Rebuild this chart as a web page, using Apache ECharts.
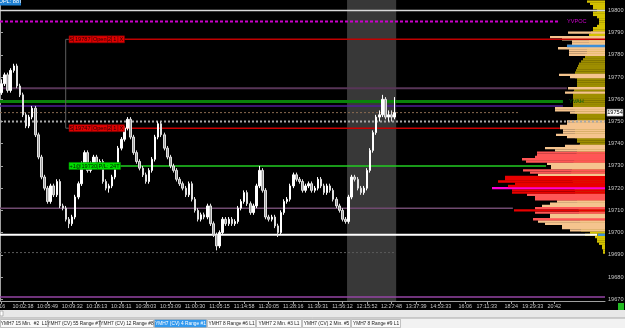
<!DOCTYPE html>
<html><head><meta charset="utf-8">
<script src="https://cdn.jsdelivr.net/npm/echarts@6/dist/echarts.min.js"></script>
<style>html,body{margin:0;padding:0;background:#000;}#c{width:625px;height:328px;}</style>
</head><body><div id="c"></div>
<script>
// ---------- DATA ----------
const timeTickSlots = [0, 7, 15, 23, 31, 39, 47, 55, 63, 71, 79, 87, 95, 103, 111, 119, 127, 135, 143, 151, 158, 166, 173, 180];
const timeTickLabels = [":16", "10:02:38", "10:05:49", "10:09:32", "10:18:13", "10:26:11", "10:38:03", "10:53:09", "11:00:30", "11:05:15", "11:14:58", "11:20:05", "11:28:16", "11:39:31", "11:56:12", "12:15:52", "12:27:48", "13:37:39", "14:53:33", "16:06", "17:11:33", "18:24", "19:29:33", "20:42"];
// [open, close, low, high]
const candles = [
[19763,19767,19762,19769],[19767,19771,19766,19772],[19771,19764,19763,19772],[19764,19773,19763,19774],
[19773,19775,19772,19776],[19775,19766,19765,19776],[19766,19762,19761,19767],[19762,19753,19752,19763],
[19753,19748,19747,19754],[19748,19752,19747,19753],[19752,19756,19751,19757],[19756,19744,19743,19757],
[19744,19734,19733,19745],[19734,19725,19724,19735],[19725,19720,19719,19726],[19720,19714,19713,19721],
[19714,19721,19713,19722],[19721,19717,19716,19722],[19717,19723,19716,19724],[19723,19712,19711,19724],
[19712,19711,19710,19713],[19711,19706,19705,19712],[19706,19704,19702,19707],[19704,19707,19703,19708],
[19707,19716,19706,19717],[19716,19722,19715,19723],[19722,19731,19721,19732],[19731,19736,19730,19737],
[19736,19728,19727,19737],[19728,19731,19727,19732],[19731,19734,19730,19735],[19734,19730,19729,19735],
[19730,19732,19729,19733],[19732,19723,19722,19733],[19723,19720,19719,19724],[19720,19721,19718,19722],
[19721,19725,19720,19726],[19725,19730,19724,19731],[19730,19738,19729,19739],[19738,19742,19737,19743],
[19742,19747,19741,19748],[19747,19751,19746,19752],[19751,19743,19742,19752],[19743,19736,19735,19744],
[19736,19732,19731,19737],[19732,19729,19728,19733],[19729,19726,19725,19730],[19726,19723,19722,19727],
[19723,19728,19722,19729],[19728,19733,19727,19734],[19733,19743,19732,19744],[19743,19749,19742,19750],
[19749,19744,19743,19750],[19744,19738,19737,19745],[19738,19734,19733,19739],[19734,19730,19729,19735],
[19730,19728,19727,19731],[19728,19724,19723,19729],[19724,19722,19721,19725],[19722,19720,19719,19723],
[19720,19717,19716,19721],[19717,19722,19716,19723],[19722,19715,19714,19723],[19715,19710,19709,19716],
[19710,19706,19705,19711],[19706,19708,19705,19709],[19708,19707,19706,19709],[19707,19712,19706,19713],
[19712,19704,19703,19713],[19704,19699,19698,19705],[19699,19694,19692,19700],[19694,19700,19693,19701],
[19700,19706,19699,19707],[19706,19704,19703,19707],[19704,19706,19703,19707],[19706,19704,19703,19707],
[19704,19705,19703,19706],[19705,19711,19704,19712],[19711,19714,19710,19715],[19714,19718,19713,19719],
[19718,19713,19712,19719],[19713,19709,19708,19714],[19709,19712,19708,19713],[19712,19721,19711,19722],
[19721,19728,19720,19730],[19728,19719,19718,19729],[19719,19707,19706,19720],[19707,19706,19705,19708],
[19706,19707,19705,19708],[19707,19703,19702,19708],[19703,19700,19698,19704],[19700,19709,19699,19710],
[19709,19714,19708,19715],[19714,19715,19713,19716],[19715,19721,19714,19722],[19721,19726,19720,19727],
[19726,19724,19723,19727],[19724,19723,19722,19725],[19723,19719,19718,19724],[19719,19721,19718,19722],
[19721,19722,19720,19723],[19722,19719,19718,19723],[19719,19720,19718,19721],[19720,19724,19719,19725],
[19724,19721,19720,19725],[19721,19718,19717,19722],[19718,19721,19717,19722],[19721,19719,19718,19722],
[19719,19715,19714,19720],[19715,19712,19711,19716],[19712,19710,19709,19713],[19710,19706,19705,19711],
[19706,19705,19704,19707],[19705,19716,19704,19717],[19716,19725,19715,19726],[19725,19724,19723,19726],
[19724,19720,19719,19725],[19720,19718,19717,19721],[19718,19720,19717,19721],[19720,19728,19719,19729],
[19728,19737,19727,19738],[19737,19745,19736,19746],[19745,19752,19744,19753],[19752,19753,19750,19755],
[19753,19760,19752,19762],[19760,19752,19751,19761],[19752,19753,19750,19755],[19753,19752,19750,19755],
[19752,19754,19751,19761]
];
const levelPrices = [19800, 19795, 19787, 19765, 19759, 19757, 19754, 19750, 19747, 19730, 19711, 19699, 19691, 19671];
const highlightSlots = [113, 129];
const lastPrice = 19754;
const sessionPrices = [19790,19788,19787,19786,19785,19784,19783,19782,19781,19780,19771,19770,19765,19763,19756,19755,19754,19750,19749,19748,19747,19746,19745,19744,19743,
19739,19738,19737,19736,19735,19734,19733,19732,19731,19730,19729,19728,19727,19726,19725,19724,19723,19722,19721,19720,19719,19718,19717,19716,19715,19714,19713,19712,19711,19710,19709,19708,19707,19706,19705,19704,19703,19702,19701];
const sessionVolumes = [37,55,43,33,33,38,47,36,36,36,46,35,37,40,50,50,35,38,38,45,45,42,42,49,38,
40,60,50,68,68,70,83,79,58,54,54,82,75,67,100,100,107,90,97,113,93,93,78,70,70,48,55,63,70,91,70,55,55,72,67,60,43,43,35];
const compositeTop = 19804; // one value per point, going down
const compositeVolumes = [18,15,12,12,8,12,12,8,6,6, 6,8,12,12,14,16,16,16,16,16, 16,16,18,18,20,20,22,24,26,27,
28,29,30,30,30,28,28,28,28,30, 31,32,32,32,32,32,32,32,32,30, 30,28,28,28,30,30,30,30,30,30, 30,30,28,28,25,
26,27,28,28,29,30,30,31,32,32,33,33,34,34,33,33,32,32,31,31,30,30,29,29,28,28,27,27,27,26,26,26,25,25,25,24,24,24,24,
15,20,10,8,8,6,3,3,2,2];
const markerPrices = [19784, 19699];
const markerVolumes = [38, 7];
const tabNames = ["YMH7 15 Min.  #2  L1", "YMH7 (CV) 55 Range #7", "YMH7 (CV) 12 Range #8", "YMH7 (CV) 4 Range #1", "YMH7 8 Range #6 L1", "YMH7 2 Min. #3 L1", "YMH7 (CV) 2 Min. #5", "YMH7 8 Range #9 L1"];

// ---------- STYLE ----------
const FONT = '"Liberation Sans", Arial, sans-serif';
const SLOTS = 197;
const lineStyles = [
  {color:'#d8d8d8', width:1.5, type:'solid',  from:0,    to:197},
  {color:'#cc00cc', width:2,   type:[3,2],    from:0,    to:182.3},
  {color:'#c00000', width:1.5, type:'solid',  from:22.5, to:197},
  {color:'#573557', width:2,   type:'solid',  from:0,    to:184.6},
  {color:'#0a820a', width:3,   type:'solid',  from:0,    to:183.3},
  {color:'#4e1f96', width:1.5, type:'solid',  from:0,    to:183.3},
  {color:'#8a6a50', width:1,   type:[2,2],    from:0,    to:168.7},
  {color:'#a8a8a8', width:2,   type:[2,2],    from:0,    to:197},
  {color:'#c80000', width:1.5, type:'solid',  from:22.5, to:182.3},
  {color:'#22cc22', width:1.5, type:'solid',  from:22.5, to:177.8},
  {color:'#704a70', width:1.5, type:'solid',  from:0,    to:167},
  {color:'#ffffff', width:2,   type:'solid',  from:0,    to:194.4},
  {color:'#5a5a5a', width:1,   type:[2,2],    from:0,    to:128.6},
  {color:'#9444a4', width:1.5, type:'solid',  from:0,    to:197}
];

const chart = echarts.init(document.getElementById('c'), null, {renderer:'canvas', width:625, height:328});
const slotCats = Array.from({length: SLOTS}, (_, i) => String(i));
const tickMap = new Map(timeTickSlots.map((s, k) => [s, timeTickLabels[k]]));
const levels = []; for (let p = 19670; p <= 19804; p++) levels.push(p);
const sessionMap = new Map(sessionPrices.map((p, i) => [p, sessionVolumes[i]]));
const markerMap = new Map(markerPrices.map((p, i) => [p, markerVolumes[i]]));
const sessionMax = Math.max(...sessionVolumes);
const compositeData = levels.map(p => { const i = compositeTop - p; return (i >= 0 && i < compositeVolumes.length) ? compositeVolumes[i] : '-'; });
const sessionData = levels.map(p => sessionMap.has(p) ? sessionMap.get(p) : '-');
const markerData = levels.map(p => markerMap.has(p) ? markerMap.get(p) : '-');

const levelSeries = levelPrices.map((p, i) => ({
  type:'line', xAxisIndex:1, yAxisIndex:0, z:3, silent:true, symbol:'none', animation:false,
  data:[[lineStyles[i].from, p], [lineStyles[i].to, p]],
  lineStyle:{color:lineStyles[i].color, width:lineStyles[i].width, type:lineStyles[i].type}
}));

chart.setOption({
  backgroundColor:'#000000',
  animation:false,
  grid:[
    {left:0, right:20, top:0, bottom:27, outerBoundsMode:'none', containLabel:false},
    {left:405, right:20, top:0.44, height:299.89, outerBoundsMode:'none', containLabel:false}
  ],
  xAxis:[
    {type:'category', gridIndex:0, data:slotCats, boundaryGap:true,
     axisLine:{show:true, lineStyle:{color:'#a0a0a0', width:1}},
     axisTick:{show:true, alignWithLabel:true, length:3, interval:(idx) => tickMap.has(idx), lineStyle:{color:'#a0a0a0'}},
     axisLabel:{show:true, interval:(idx) => tickMap.has(idx), formatter:(v, idx) => tickMap.get(Number(v)) || '', color:'#c8c8c8', fontSize:5.4, fontFamily:FONT, margin:3},
     splitLine:{show:false}},
    {type:'value', gridIndex:0, min:0, max:SLOTS, show:false},
    {type:'value', gridIndex:1, min:0, max:200, inverse:true, show:false}
  ],
  yAxis:[
    {type:'value', gridIndex:0, position:'right', min:19669.2, max:19804.7, splitNumber:14, scale:true,
     axisLine:{show:true, lineStyle:{color:'#a0a0a0', width:1}},
     axisTick:{show:true, length:3, lineStyle:{color:'#a0a0a0'}},
     axisLabel:{show:true, color:'#c8c8c8', fontSize:5.6, fontFamily:FONT, margin:3,
       formatter:(v) => (Math.abs(v % 10) < 1e-6 ? String(v) : '')},
     splitLine:{show:false}},
    {type:'category', gridIndex:1, data:levels.map(String), show:false}
  ],
  series:[
    {type:'line', xAxisIndex:1, yAxisIndex:0, z:1, data:[], silent:true,
     markArea:{silent:true, itemStyle:{color:'#383838'}, data:[[{xAxis:highlightSlots[0]}, {xAxis:highlightSlots[1]}]]}},
    {type:'bar', xAxisIndex:2, yAxisIndex:1, z:2, barWidth:2.4, barGap:'-100%', silent:true, data:compositeData,
     itemStyle:{color:(p) => (p.value <= 18 ? '#d4c200' : '#9e8e00')}},
    {type:'bar', xAxisIndex:2, yAxisIndex:1, z:2, barWidth:2.4, barGap:'-100%', silent:true, data:sessionData,
     itemStyle:{color:(p) => (p.value === sessionMax ? '#ff00d8' : p.value >= 88 ? '#e80000' : p.value >= 68 ? '#ff5656' : '#f5c48e')}},
    {type:'bar', xAxisIndex:2, yAxisIndex:1, z:2, barWidth:2.4, barGap:'-100%', silent:true, data:markerData,
     itemStyle:{color:'#3d8fd8'}},
    ...levelSeries,
    {type:'candlestick', xAxisIndex:0, yAxisIndex:0, z:4, barWidth:2, silent:true, data:candles,
     itemStyle:{color:'#ffffff', color0:'#9a9a9a', borderColor:'#ffffff', borderColor0:'#e0e0e0', borderWidth:1}}
  ]
});

// ---------- ANNOTATIONS (positions from the price scale) ----------
const py = (p) => chart.convertToPixel({yAxisIndex:0}, p);
const g = [];
function segLabel(x0, price, segs, fill, stroke, textFill) {
  const y = py(price), h = 7; let x = x0;
  segs.forEach(([t, w]) => {
    g.push({type:'rect', z:20, silent:true, shape:{x:x, y:y - h / 2, width:w, height:h}, style:{fill:fill, stroke:stroke, lineWidth:0.6}});
    g.push({type:'text', z:21, silent:true, style:{text:t, x:x + w / 2, y:y + 0.5, align:'center', verticalAlign:'middle', fill:textFill, font:'5.6px ' + FONT}});
    x += w;
  });
}
g.push({type:'polyline', z:19, silent:true, shape:{points:[[69, py(19787)], [65.7, py(19787)], [65.7, py(19747)], [69, py(19747)]]}, style:{stroke:'#5e5e5e', lineWidth:1, fill:null}});
segLabel(69, 19787, [["S",4.5],["19787",18.5],["Open",15.5],["2",4],["1",6.5],["X",6.5]], '#e00000', '#7a0000', '#2a0000');
segLabel(69, 19747, [["S",4.5],["19747",18.5],["Open",15.5],["2",4],["1",6.5],["X",6.5]], '#e00000', '#7a0000', '#2a0000');
segLabel(69, 19730, [["+1@19730",28.5],["P/L: 24T",23]], '#00dd00', '#008800', '#002200');
g.push({type:'rect', z:20, silent:true, shape:{x:0, y:-2, width:21, height:7.5}, style:{fill:'#1f80d2'}});
g.push({type:'text', z:21, silent:true, style:{text:'OPL: 88T', x:10.5, y:1.8, align:'center', verticalAlign:'middle', fill:'#ffffff', font:'5.6px ' + FONT}});
g.push({type:'text', z:21, silent:true, style:{text:'YVPOC', x:567, y:py(19795), align:'left', verticalAlign:'middle', fill:'#cc00cc', font:'5.6px ' + FONT}});
g.push({type:'text', z:21, silent:true, style:{text:'YVAH', x:569, y:py(19759), align:'left', verticalAlign:'middle', fill:'#0b5e0b', font:'5.6px ' + FONT}});
g.push({type:'rect', z:20, silent:true, shape:{x:607, y:py(lastPrice) - 3.5, width:16, height:7}, style:{fill:'#ffffff', stroke:'#8a8a8a', lineWidth:0.6}});
g.push({type:'text', z:21, silent:true, style:{text:String(lastPrice), x:615, y:py(lastPrice) + 0.3, align:'center', verticalAlign:'middle', fill:'#000000', font:'5.6px ' + FONT}});
g.push({type:'rect', z:20, silent:true, shape:{x:618, y:303, width:6, height:7}, style:{fill:'#22bb22'}});
g.push({type:'rect', z:20, silent:true, shape:{x:0, y:310, width:625, height:8}, style:{fill:'#e8e8e8'}});
g.push({type:'rect', z:21, silent:true, shape:{x:0, y:311, width:3, height:5}, style:{fill:'#ffffff', stroke:'#8a8a8a', lineWidth:0.6}});
g.push({type:'rect', z:20, silent:true, shape:{x:0, y:318, width:625, height:10}, style:{fill:'#f2f2f2'}});
g.push({type:'line', z:21, silent:true, shape:{x1:0, y1:318, x2:625, y2:318}, style:{stroke:'#a8a8a8', lineWidth:1}});
const tabBounds = [[0,47],[48,99],[100,153],[154,206],[207,255],[256,301],[302,350],[351,400]];
tabNames.forEach((t, i) => {
  const [a, b] = tabBounds[i]; const sel = i === 3;
  g.push({type:'rect', z:21, silent:true, shape:{x:a + 0.5, y:319.5, width:b - a, height:8}, style:{fill: sel ? '#3399ee' : '#fafafa', stroke:'#a0a0a0', lineWidth:0.6}});
  g.push({type:'text', z:22, silent:true, style:{text:t, x:(a + b) / 2 + 0.5, y:323.7, align:'center', verticalAlign:'middle', fill: sel ? '#ffffff' : '#222222', font:'4.8px ' + FONT}});
});
chart.setOption({graphic:{elements:g}});
</script>
</body></html>
